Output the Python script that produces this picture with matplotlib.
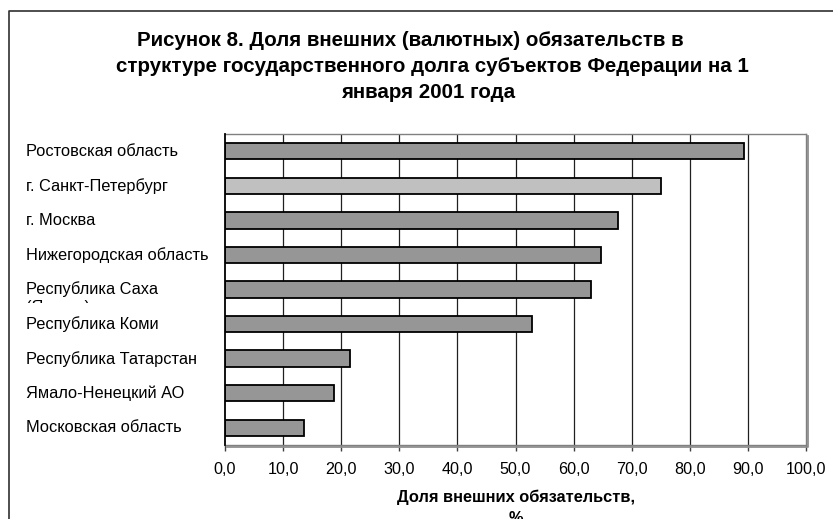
import matplotlib.pyplot as plt
import matplotlib.transforms as mtransforms
from matplotlib.lines import Line2D

plt.rcParams['font.family'] = ['Liberation Sans', 'DejaVu Sans']

# data, top to bottom as in the picture
regions = ["Ростовская область", "г. Санкт-Петербург", "г. Москва",
           "Нижегородская область", "Республика Саха", "Республика Коми",
           "Республика Татарстан", "Ямало-Ненецкий АО", "Московская область"]
shares = [89.4, 75.1, 67.6, 64.8, 63.0, 52.8, 21.6, 18.7, 13.6]
bar_colors = ["#969696", "#c0c0c0", "#969696", "#969696", "#969696",
              "#969696", "#969696", "#969696", "#969696"]
x_ticks = [0, 10, 20, 30, 40, 50, 60, 70, 80, 90, 100]

title_lines = ["Рисунок 8. Доля внешних (валютных) обязательств в",
               "структуре государственного долга субъектов Федерации на 1",
               "января 2001 года"]

W, H = 833, 519
fig = plt.figure(figsize=(W / 100, H / 100), dpi=100)
fig.patch.set_facecolor("white")

ax = fig.add_axes([225 / W, 1 - 445 / H, 581 / W, 311 / H])

ypos = list(range(len(regions)))
ax.barh(ypos, shares, height=0.47, color=bar_colors, edgecolor="black",
        linewidth=1.3, zorder=3)
ax.set_ylim(len(regions) - 0.5, -0.5)
ax.set_xlim(0, 100)

for v in x_ticks[1:-1]:
    ax.axvline(v, color="#202020", lw=0.9, zorder=1)

ax.set_xticks(x_ticks)
ax.set_xticklabels([f"{v:.1f}".replace(".", ",") for v in x_ticks], fontsize=11.6)
ax.tick_params(axis="x", direction="out", length=4.3, width=1, color="#404040", pad=8.3)
ax.set_yticks([])

for side in ["top", "right", "bottom"]:
    ax.spines[side].set_color("#808080")
    ax.spines[side].set_linewidth(1)
ax.spines["left"].set_color("black")
ax.spines["left"].set_linewidth(1.3)
ax.spines["left"].set_zorder(4)

# shadow of the plot area
shadow = mtransforms.offset_copy(ax.transAxes, fig=fig, x=1.8, y=-1.8, units="dots")
ax.add_line(Line2D([0, 1, 1], [0, 0, 1], transform=shadow, color="#909090",
                   lw=1.3, clip_on=False))

# category labels, left aligned
lab_tr = mtransforms.blended_transform_factory(fig.transFigure, ax.transData)
for y, name in zip(ypos, regions):
    ax.text(26 / W, y, name, transform=lab_tr, ha="left", va="center",
            fontsize=11.8)
# second line of the Sakha label is cut off in the original
extra = ax.text(26 / W, 4 + 0.52, "(Якутия)", transform=lab_tr, ha="left",
                va="center", fontsize=11.8)
extra.set_clip_box(mtransforms.TransformedBbox(
    mtransforms.Bbox([[0, 1 - 303 / H], [1, 1]]), fig.transFigure))
extra.set_clip_on(True)

# title
title_x = [410, 432, 428]
title_y = [40, 66, 92]
for line, tx, ty in zip(title_lines, title_x, title_y):
    fig.text(tx / W, 1 - ty / H, line, ha="center", va="center",
             fontsize=14.8, fontweight="bold")

# axis title, its second line runs off the bottom edge like in the original
fig.text(516 / W, 1 - 490 / H, "Доля внешних обязательств,\n%", ha="center",
         va="top", fontsize=11.8, fontweight="bold", linespacing=1.5)

# chart border (only top and left are inside the crop)
fig.add_artist(Line2D([9 / W, 9 / W, 1], [0, 1 - 11 / H, 1 - 11 / H],
                      transform=fig.transFigure, color="#303030", lw=1.2))

fig.savefig("out.png", dpi=100)
